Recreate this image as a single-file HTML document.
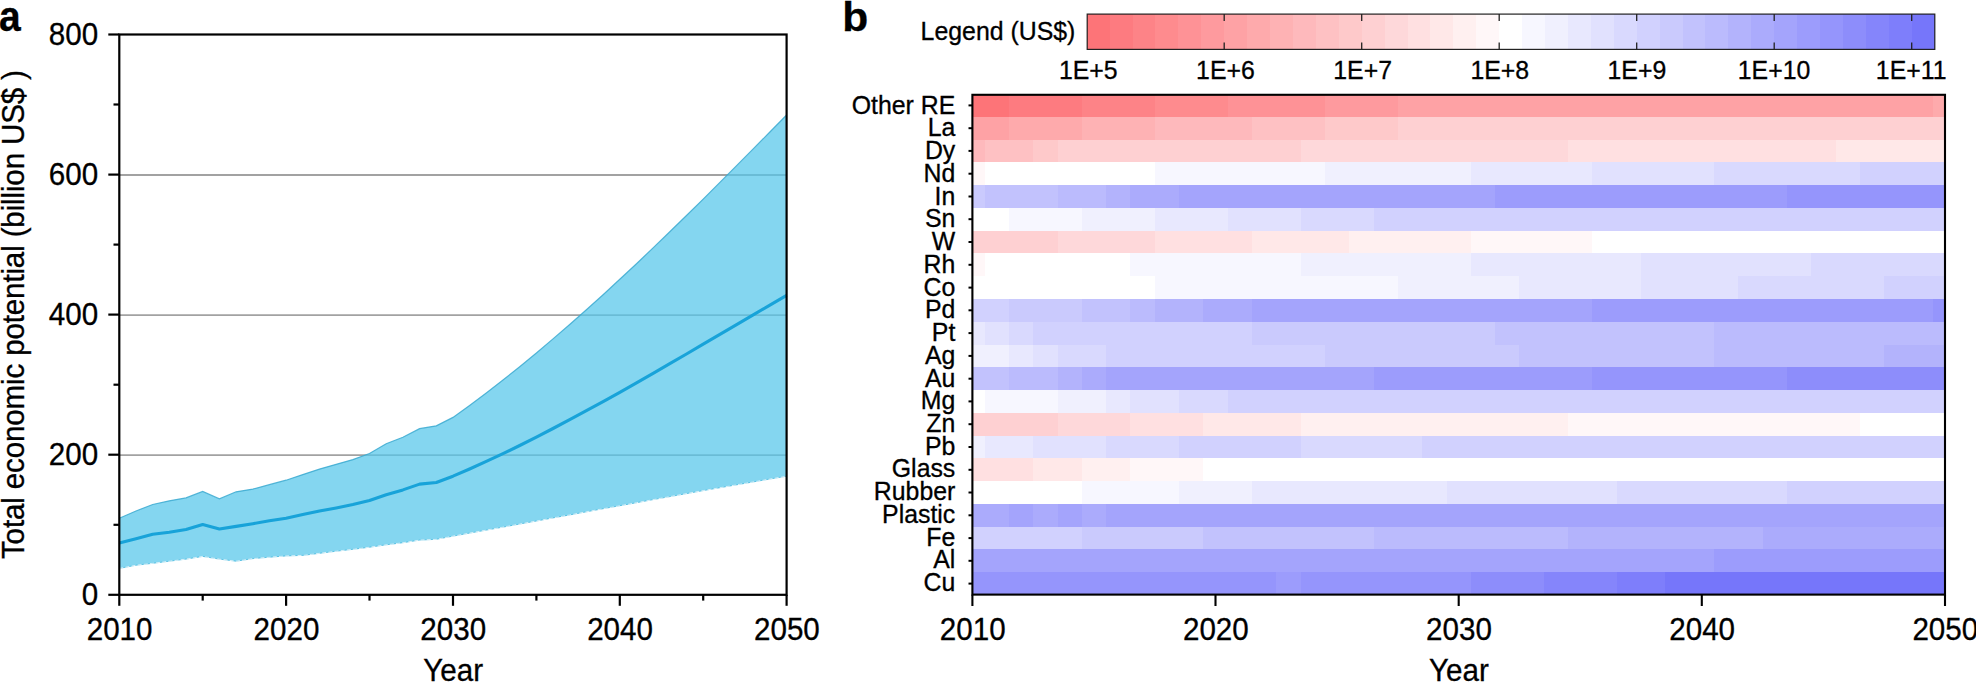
<!DOCTYPE html>
<html lang="en"><head><meta charset="utf-8"><title>Figure</title>
<style>html,body{margin:0;padding:0;background:#fff;}body{width:1976px;height:682px;overflow:hidden;font-family:"Liberation Sans", sans-serif;}svg text{fill:#000;stroke:#000;stroke-width:0.3px;}</style>
</head><body>
<svg width="1976" height="682" viewBox="0 0 1976 682" style="display:block;font-family:'Liberation Sans', sans-serif">
<rect width="1976" height="682" fill="#fff"/>
<line x1="119.3" x2="786.6" y1="455.17" y2="455.17" stroke="#a2a2a2" stroke-width="1.9"/>
<line x1="119.3" x2="786.6" y1="315.10" y2="315.10" stroke="#a2a2a2" stroke-width="1.9"/>
<line x1="119.3" x2="786.6" y1="175.02" y2="175.02" stroke="#a2a2a2" stroke-width="1.9"/>
<polygon points="119.3,518.2 136.0,511.0 152.7,504.5 169.3,500.8 186.0,497.9 202.7,491.5 219.4,498.9 236.1,491.8 252.8,489.1 269.4,484.7 286.1,480.2 302.8,474.6 319.5,469.1 336.2,464.3 352.9,459.6 369.5,453.5 386.2,443.8 402.9,437.2 419.6,428.7 436.3,425.8 453.0,417.4 469.6,405.4 486.3,392.9 503.0,380.0 519.7,366.7 536.4,353.0 553.0,338.9 569.7,324.5 586.4,309.8 603.1,294.7 619.8,279.3 636.5,263.7 653.1,247.9 669.8,231.8 686.5,215.5 703.2,199.1 719.9,182.4 736.6,165.7 753.2,148.9 769.9,132.0 786.6,115.0 786.6,476.2 769.9,479.0 753.2,481.9 736.6,484.8 719.9,487.7 703.2,490.6 686.5,493.6 669.8,496.6 653.1,499.6 636.5,502.7 619.8,505.7 603.1,508.7 586.4,511.8 569.7,514.9 553.0,517.9 536.4,521.0 519.7,524.0 503.0,527.1 486.3,530.1 469.6,533.1 453.0,536.1 436.3,539.3 419.6,540.1 402.9,542.7 386.2,544.8 369.5,547.2 352.9,549.3 336.2,551.2 319.5,553.3 302.8,555.4 286.1,555.9 269.4,557.2 252.8,558.6 236.1,561.2 219.4,559.1 202.7,556.4 186.0,559.1 169.3,561.2 152.7,563.3 136.0,565.2 119.3,568.4" fill="#55c6ea" fill-opacity="0.72"/>
<polyline points="119.3,518.2 136.0,511.0 152.7,504.5 169.3,500.8 186.0,497.9 202.7,491.5 219.4,498.9 236.1,491.8 252.8,489.1 269.4,484.7 286.1,480.2 302.8,474.6 319.5,469.1 336.2,464.3 352.9,459.6 369.5,453.5 386.2,443.8 402.9,437.2 419.6,428.7 436.3,425.8 453.0,417.4 469.6,405.4 486.3,392.9 503.0,380.0 519.7,366.7 536.4,353.0 553.0,338.9 569.7,324.5 586.4,309.8 603.1,294.7 619.8,279.3 636.5,263.7 653.1,247.9 669.8,231.8 686.5,215.5 703.2,199.1 719.9,182.4 736.6,165.7 753.2,148.9 769.9,132.0 786.6,115.0" fill="none" stroke="#3aa9d0" stroke-width="1.2" stroke-opacity="0.85"/>
<polyline points="119.3,568.4 136.0,565.2 152.7,563.3 169.3,561.2 186.0,559.1 202.7,556.4 219.4,559.1 236.1,561.2 252.8,558.6 269.4,557.2 286.1,555.9 302.8,555.4 319.5,553.3 336.2,551.2 352.9,549.3 369.5,547.2 386.2,544.8 402.9,542.7 419.6,540.1 436.3,539.3 453.0,536.1 469.6,533.1 486.3,530.1 503.0,527.1 519.7,524.0 536.4,521.0 553.0,517.9 569.7,514.9 586.4,511.8 603.1,508.7 619.8,505.7 636.5,502.7 653.1,499.6 669.8,496.6 686.5,493.6 703.2,490.6 719.9,487.7 736.6,484.8 753.2,481.9 769.9,479.0 786.6,476.2" fill="none" stroke="#45b9e0" stroke-width="1" stroke-opacity="0.8"/>
<polyline points="119.3,568.4 136.0,565.2 152.7,563.3 169.3,561.2 186.0,559.1 202.7,556.4 219.4,559.1 236.1,561.2 252.8,558.6 269.4,557.2 286.1,555.9 302.8,555.4 319.5,553.3 336.2,551.2 352.9,549.3 369.5,547.2 386.2,544.8 402.9,542.7 419.6,540.1 436.3,539.3 453.0,536.1 469.6,533.1 486.3,530.1 503.0,527.1 519.7,524.0 536.4,521.0 553.0,517.9 569.7,514.9 586.4,511.8 603.1,508.7 619.8,505.7 636.5,502.7 653.1,499.6 669.8,496.6 686.5,493.6 703.2,490.6 719.9,487.7 736.6,484.8 753.2,481.9 769.9,479.0 786.6,476.2" fill="none" stroke="#ffffff" stroke-width="0.9" stroke-dasharray="4 2.2" stroke-opacity="0.85"/>
<polyline points="119.3,543.0 136.0,538.8 152.7,534.3 169.3,532.2 186.0,529.5 202.7,524.5 219.4,529.0 236.1,526.4 252.8,523.7 269.4,520.8 286.1,518.2 302.8,514.5 319.5,511.1 336.2,507.9 352.9,504.5 369.5,500.5 386.2,494.7 402.9,489.9 419.6,484.1 436.3,482.5 453.0,476.2 469.6,469.0 486.3,461.4 503.0,453.6 519.7,445.5 536.4,437.1 553.0,428.5 569.7,419.7 586.4,410.7 603.1,401.6 619.8,392.3 636.5,382.8 653.1,373.3 669.8,363.7 686.5,354.0 703.2,344.2 719.9,334.4 736.6,324.6 753.2,314.9 769.9,305.1 786.6,295.4" fill="none" stroke="#18a3d9" stroke-width="3.1" stroke-linejoin="round"/>
<rect x="119.3" y="34.5" width="667.3000000000001" height="560.3" fill="none" stroke="#000" stroke-width="2.2"/>
<line x1="119.3" x2="119.3" y1="594.8" y2="605.8" stroke="#000" stroke-width="2.2"/>
<line x1="202.7" x2="202.7" y1="594.8" y2="600.5999999999999" stroke="#000" stroke-width="2.2"/>
<line x1="286.1" x2="286.1" y1="594.8" y2="605.8" stroke="#000" stroke-width="2.2"/>
<line x1="369.5" x2="369.5" y1="594.8" y2="600.5999999999999" stroke="#000" stroke-width="2.2"/>
<line x1="453.0" x2="453.0" y1="594.8" y2="605.8" stroke="#000" stroke-width="2.2"/>
<line x1="536.4" x2="536.4" y1="594.8" y2="600.5999999999999" stroke="#000" stroke-width="2.2"/>
<line x1="619.8" x2="619.8" y1="594.8" y2="605.8" stroke="#000" stroke-width="2.2"/>
<line x1="703.2" x2="703.2" y1="594.8" y2="600.5999999999999" stroke="#000" stroke-width="2.2"/>
<line x1="786.6" x2="786.6" y1="594.8" y2="605.8" stroke="#000" stroke-width="2.2"/>
<line x1="108.3" x2="119.3" y1="594.8" y2="594.8" stroke="#000" stroke-width="2.2"/>
<line x1="113.5" x2="119.3" y1="524.8" y2="524.8" stroke="#000" stroke-width="2.2"/>
<line x1="108.3" x2="119.3" y1="454.7" y2="454.7" stroke="#000" stroke-width="2.2"/>
<line x1="113.5" x2="119.3" y1="384.7" y2="384.7" stroke="#000" stroke-width="2.2"/>
<line x1="108.3" x2="119.3" y1="314.6" y2="314.6" stroke="#000" stroke-width="2.2"/>
<line x1="113.5" x2="119.3" y1="244.6" y2="244.6" stroke="#000" stroke-width="2.2"/>
<line x1="108.3" x2="119.3" y1="174.6" y2="174.6" stroke="#000" stroke-width="2.2"/>
<line x1="113.5" x2="119.3" y1="104.5" y2="104.5" stroke="#000" stroke-width="2.2"/>
<line x1="108.3" x2="119.3" y1="34.5" y2="34.5" stroke="#000" stroke-width="2.2"/>
<text transform="translate(119.60,639.60) scale(1,1.03)" font-size="29.6" text-anchor="middle">2010</text>
<text transform="translate(286.43,639.60) scale(1,1.03)" font-size="29.6" text-anchor="middle">2020</text>
<text transform="translate(453.25,639.60) scale(1,1.03)" font-size="29.6" text-anchor="middle">2030</text>
<text transform="translate(620.08,639.60) scale(1,1.03)" font-size="29.6" text-anchor="middle">2040</text>
<text transform="translate(786.90,639.60) scale(1,1.03)" font-size="29.6" text-anchor="middle">2050</text>
<text transform="translate(98.20,605.30) scale(1,1.03)" font-size="29.6" text-anchor="end">0</text>
<text transform="translate(98.20,465.22) scale(1,1.03)" font-size="29.6" text-anchor="end">200</text>
<text transform="translate(98.20,325.15) scale(1,1.03)" font-size="29.6" text-anchor="end">400</text>
<text transform="translate(98.20,185.07) scale(1,1.03)" font-size="29.6" text-anchor="end">600</text>
<text transform="translate(98.20,45.00) scale(1,1.03)" font-size="29.6" text-anchor="end">800</text>
<text transform="translate(453.20,681.20) scale(1,1.03)" font-size="29.6" text-anchor="middle">Year</text>
<text transform="translate(23.80,559.00) rotate(-90) scale(1,1.03)" font-size="29.6" textLength="489" lengthAdjust="spacing">Total economic potential (billion US$ )</text>
<text transform="translate(-1.00,31.30) scale(1,1.1)" font-size="39" font-weight="bold">a</text>
<g shape-rendering="crispEdges">
<rect x="972.40" y="94.00" width="36.97" height="23.27" fill="#fd7478"/>
<rect x="1008.87" y="94.00" width="73.44" height="23.27" fill="#fd7b80"/>
<rect x="1081.82" y="94.00" width="73.45" height="23.27" fill="#fd8387"/>
<rect x="1154.76" y="94.00" width="73.44" height="23.27" fill="#fe8b8e"/>
<rect x="1227.71" y="94.00" width="97.76" height="23.27" fill="#fe9296"/>
<rect x="1324.97" y="94.00" width="73.44" height="23.27" fill="#fe9a9e"/>
<rect x="1397.91" y="94.00" width="535.43" height="23.27" fill="#fea2a5"/>
<rect x="1932.84" y="94.00" width="12.66" height="23.27" fill="#feaaac"/>
<rect x="972.40" y="116.77" width="36.97" height="23.27" fill="#fea2a5"/>
<rect x="1008.87" y="116.77" width="73.44" height="23.27" fill="#feaaac"/>
<rect x="1081.82" y="116.77" width="73.45" height="23.27" fill="#feb2b4"/>
<rect x="1154.76" y="116.77" width="97.76" height="23.27" fill="#feb9bc"/>
<rect x="1252.02" y="116.77" width="73.44" height="23.27" fill="#fec1c3"/>
<rect x="1324.97" y="116.77" width="73.44" height="23.27" fill="#fec9ca"/>
<rect x="1397.91" y="116.77" width="547.59" height="23.27" fill="#fed0d2"/>
<rect x="972.40" y="139.55" width="12.66" height="23.27" fill="#feb9bc"/>
<rect x="984.56" y="139.55" width="49.13" height="23.27" fill="#fec1c3"/>
<rect x="1033.19" y="139.55" width="24.82" height="23.27" fill="#fec9ca"/>
<rect x="1057.50" y="139.55" width="243.65" height="23.27" fill="#fed0d2"/>
<rect x="1300.65" y="139.55" width="267.97" height="23.27" fill="#fed8da"/>
<rect x="1568.12" y="139.55" width="267.96" height="23.27" fill="#ffe0e1"/>
<rect x="1835.58" y="139.55" width="109.92" height="23.27" fill="#ffe8e8"/>
<rect x="972.40" y="162.32" width="12.66" height="23.27" fill="#fff7f8"/>
<rect x="984.56" y="162.32" width="170.71" height="23.27" fill="#ffffff"/>
<rect x="1154.76" y="162.32" width="170.70" height="23.27" fill="#f7f7ff"/>
<rect x="1324.97" y="162.32" width="146.39" height="23.27" fill="#f0f0fe"/>
<rect x="1470.86" y="162.32" width="122.07" height="23.27" fill="#e8e8fe"/>
<rect x="1592.43" y="162.32" width="122.08" height="23.27" fill="#e1e1fe"/>
<rect x="1714.01" y="162.32" width="146.39" height="23.27" fill="#d9d9fe"/>
<rect x="1859.90" y="162.32" width="85.60" height="23.27" fill="#d1d1fe"/>
<rect x="972.40" y="185.09" width="12.66" height="23.27" fill="#cacafd"/>
<rect x="984.56" y="185.09" width="73.45" height="23.27" fill="#c2c2fd"/>
<rect x="1057.50" y="185.09" width="49.13" height="23.27" fill="#bbbbfd"/>
<rect x="1106.13" y="185.09" width="24.82" height="23.27" fill="#b3b3fc"/>
<rect x="1130.45" y="185.09" width="49.13" height="23.27" fill="#ababfc"/>
<rect x="1179.08" y="185.09" width="316.60" height="23.27" fill="#a4a4fc"/>
<rect x="1495.17" y="185.09" width="292.28" height="23.27" fill="#9c9cfc"/>
<rect x="1786.95" y="185.09" width="158.55" height="23.27" fill="#9595fc"/>
<rect x="972.40" y="207.86" width="36.97" height="23.27" fill="#ffffff"/>
<rect x="1008.87" y="207.86" width="73.44" height="23.27" fill="#f7f7ff"/>
<rect x="1081.82" y="207.86" width="73.45" height="23.27" fill="#f0f0fe"/>
<rect x="1154.76" y="207.86" width="73.44" height="23.27" fill="#e8e8fe"/>
<rect x="1227.71" y="207.86" width="73.44" height="23.27" fill="#e1e1fe"/>
<rect x="1300.65" y="207.86" width="73.45" height="23.27" fill="#d9d9fe"/>
<rect x="1373.60" y="207.86" width="571.90" height="23.27" fill="#d1d1fe"/>
<rect x="972.40" y="230.64" width="85.60" height="23.27" fill="#fed0d2"/>
<rect x="1057.50" y="230.64" width="97.76" height="23.27" fill="#fed8da"/>
<rect x="1154.76" y="230.64" width="97.76" height="23.27" fill="#ffe0e1"/>
<rect x="1252.02" y="230.64" width="97.76" height="23.27" fill="#ffe8e8"/>
<rect x="1349.28" y="230.64" width="122.08" height="23.27" fill="#fff0f0"/>
<rect x="1470.86" y="230.64" width="122.07" height="23.27" fill="#fff7f8"/>
<rect x="1592.43" y="230.64" width="353.07" height="23.27" fill="#ffffff"/>
<rect x="972.40" y="253.41" width="12.66" height="23.27" fill="#fff7f8"/>
<rect x="984.56" y="253.41" width="146.39" height="23.27" fill="#ffffff"/>
<rect x="1130.45" y="253.41" width="170.70" height="23.27" fill="#f7f7ff"/>
<rect x="1300.65" y="253.41" width="170.71" height="23.27" fill="#f0f0fe"/>
<rect x="1470.86" y="253.41" width="170.70" height="23.27" fill="#e8e8fe"/>
<rect x="1641.06" y="253.41" width="170.70" height="23.27" fill="#e1e1fe"/>
<rect x="1811.27" y="253.41" width="134.23" height="23.27" fill="#d9d9fe"/>
<rect x="972.40" y="276.18" width="182.86" height="23.27" fill="#ffffff"/>
<rect x="1154.76" y="276.18" width="243.65" height="23.27" fill="#f7f7ff"/>
<rect x="1397.91" y="276.18" width="122.08" height="23.27" fill="#f0f0fe"/>
<rect x="1519.49" y="276.18" width="122.08" height="23.27" fill="#e8e8fe"/>
<rect x="1641.06" y="276.18" width="97.76" height="23.27" fill="#e1e1fe"/>
<rect x="1738.32" y="276.18" width="146.39" height="23.27" fill="#d9d9fe"/>
<rect x="1884.21" y="276.18" width="61.29" height="23.27" fill="#d1d1fe"/>
<rect x="972.40" y="298.95" width="36.97" height="23.27" fill="#d1d1fe"/>
<rect x="1008.87" y="298.95" width="73.44" height="23.27" fill="#cacafd"/>
<rect x="1081.82" y="298.95" width="49.13" height="23.27" fill="#c2c2fd"/>
<rect x="1130.45" y="298.95" width="24.82" height="23.27" fill="#bbbbfd"/>
<rect x="1154.76" y="298.95" width="49.13" height="23.27" fill="#b3b3fc"/>
<rect x="1203.39" y="298.95" width="49.13" height="23.27" fill="#ababfc"/>
<rect x="1252.02" y="298.95" width="340.91" height="23.27" fill="#a4a4fc"/>
<rect x="1592.43" y="298.95" width="340.91" height="23.27" fill="#9c9cfc"/>
<rect x="1932.84" y="298.95" width="12.66" height="23.27" fill="#9595fc"/>
<rect x="972.40" y="321.73" width="12.66" height="23.27" fill="#e8e8fe"/>
<rect x="984.56" y="321.73" width="24.81" height="23.27" fill="#e1e1fe"/>
<rect x="1008.87" y="321.73" width="24.82" height="23.27" fill="#d9d9fe"/>
<rect x="1033.19" y="321.73" width="219.34" height="23.27" fill="#d1d1fe"/>
<rect x="1252.02" y="321.73" width="243.65" height="23.27" fill="#cacafd"/>
<rect x="1495.17" y="321.73" width="219.34" height="23.27" fill="#c2c2fd"/>
<rect x="1714.01" y="321.73" width="231.49" height="23.27" fill="#bbbbfd"/>
<rect x="972.40" y="344.50" width="36.97" height="23.27" fill="#f0f0fe"/>
<rect x="1008.87" y="344.50" width="24.82" height="23.27" fill="#e8e8fe"/>
<rect x="1033.19" y="344.50" width="24.82" height="23.27" fill="#e1e1fe"/>
<rect x="1057.50" y="344.50" width="49.13" height="23.27" fill="#d9d9fe"/>
<rect x="1106.13" y="344.50" width="219.34" height="23.27" fill="#d1d1fe"/>
<rect x="1324.97" y="344.50" width="195.02" height="23.27" fill="#cacafd"/>
<rect x="1519.49" y="344.50" width="195.02" height="23.27" fill="#c2c2fd"/>
<rect x="1714.01" y="344.50" width="170.70" height="23.27" fill="#bbbbfd"/>
<rect x="1884.21" y="344.50" width="61.29" height="23.27" fill="#b3b3fc"/>
<rect x="972.40" y="367.27" width="36.97" height="23.27" fill="#c2c2fd"/>
<rect x="1008.87" y="367.27" width="49.13" height="23.27" fill="#bbbbfd"/>
<rect x="1057.50" y="367.27" width="24.81" height="23.27" fill="#b3b3fc"/>
<rect x="1081.82" y="367.27" width="24.82" height="23.27" fill="#ababfc"/>
<rect x="1106.13" y="367.27" width="267.97" height="23.27" fill="#a4a4fc"/>
<rect x="1373.60" y="367.27" width="219.33" height="23.27" fill="#9c9cfc"/>
<rect x="1592.43" y="367.27" width="195.02" height="23.27" fill="#9595fc"/>
<rect x="1786.95" y="367.27" width="158.55" height="23.27" fill="#8d8dfb"/>
<rect x="972.40" y="390.05" width="12.66" height="23.27" fill="#ffffff"/>
<rect x="984.56" y="390.05" width="73.45" height="23.27" fill="#f7f7ff"/>
<rect x="1057.50" y="390.05" width="49.13" height="23.27" fill="#f0f0fe"/>
<rect x="1106.13" y="390.05" width="24.82" height="23.27" fill="#e8e8fe"/>
<rect x="1130.45" y="390.05" width="49.13" height="23.27" fill="#e1e1fe"/>
<rect x="1179.08" y="390.05" width="49.13" height="23.27" fill="#d9d9fe"/>
<rect x="1227.71" y="390.05" width="717.79" height="23.27" fill="#d1d1fe"/>
<rect x="972.40" y="412.82" width="85.60" height="23.27" fill="#fed0d2"/>
<rect x="1057.50" y="412.82" width="73.44" height="23.27" fill="#fed8da"/>
<rect x="1130.45" y="412.82" width="73.44" height="23.27" fill="#ffe0e1"/>
<rect x="1203.39" y="412.82" width="97.76" height="23.27" fill="#ffe8e8"/>
<rect x="1300.65" y="412.82" width="267.97" height="23.27" fill="#fff0f0"/>
<rect x="1568.12" y="412.82" width="292.28" height="23.27" fill="#fff7f8"/>
<rect x="1859.90" y="412.82" width="85.60" height="23.27" fill="#ffffff"/>
<rect x="972.40" y="435.59" width="12.66" height="23.27" fill="#f0f0fe"/>
<rect x="984.56" y="435.59" width="49.13" height="23.27" fill="#e8e8fe"/>
<rect x="1033.19" y="435.59" width="73.44" height="23.27" fill="#e1e1fe"/>
<rect x="1106.13" y="435.59" width="73.44" height="23.27" fill="#d9d9fe"/>
<rect x="1179.08" y="435.59" width="122.08" height="23.27" fill="#d1d1fe"/>
<rect x="1300.65" y="435.59" width="122.08" height="23.27" fill="#d9d9fe"/>
<rect x="1422.23" y="435.59" width="523.27" height="23.27" fill="#d1d1fe"/>
<rect x="972.40" y="458.36" width="61.29" height="23.27" fill="#ffe0e1"/>
<rect x="1033.19" y="458.36" width="49.13" height="23.27" fill="#ffe8e8"/>
<rect x="1081.82" y="458.36" width="49.13" height="23.27" fill="#fff0f0"/>
<rect x="1130.45" y="458.36" width="73.44" height="23.27" fill="#fff7f8"/>
<rect x="1203.39" y="458.36" width="742.11" height="23.27" fill="#ffffff"/>
<rect x="972.40" y="481.14" width="109.92" height="23.27" fill="#ffffff"/>
<rect x="1081.82" y="481.14" width="97.76" height="23.27" fill="#f7f7ff"/>
<rect x="1179.08" y="481.14" width="73.45" height="23.27" fill="#f0f0fe"/>
<rect x="1252.02" y="481.14" width="195.02" height="23.27" fill="#e8e8fe"/>
<rect x="1446.54" y="481.14" width="170.70" height="23.27" fill="#e1e1fe"/>
<rect x="1616.75" y="481.14" width="170.70" height="23.27" fill="#d9d9fe"/>
<rect x="1786.95" y="481.14" width="158.55" height="23.27" fill="#d1d1fe"/>
<rect x="972.40" y="503.91" width="36.97" height="23.27" fill="#ababfc"/>
<rect x="1008.87" y="503.91" width="24.82" height="23.27" fill="#a4a4fc"/>
<rect x="1033.19" y="503.91" width="24.82" height="23.27" fill="#ababfc"/>
<rect x="1057.50" y="503.91" width="24.81" height="23.27" fill="#a4a4fc"/>
<rect x="1081.82" y="503.91" width="24.82" height="23.27" fill="#ababfc"/>
<rect x="1106.13" y="503.91" width="839.37" height="23.27" fill="#a4a4fc"/>
<rect x="972.40" y="526.68" width="109.92" height="23.27" fill="#d1d1fe"/>
<rect x="1081.82" y="526.68" width="122.08" height="23.27" fill="#cacafd"/>
<rect x="1203.39" y="526.68" width="170.71" height="23.27" fill="#c2c2fd"/>
<rect x="1373.60" y="526.68" width="195.02" height="23.27" fill="#bbbbfd"/>
<rect x="1568.12" y="526.68" width="195.02" height="23.27" fill="#b3b3fc"/>
<rect x="1762.64" y="526.68" width="182.86" height="23.27" fill="#ababfc"/>
<rect x="972.40" y="549.45" width="742.11" height="23.27" fill="#a4a4fc"/>
<rect x="1714.01" y="549.45" width="231.49" height="23.27" fill="#9c9cfc"/>
<rect x="972.40" y="572.23" width="304.44" height="22.77" fill="#9595fc"/>
<rect x="1276.34" y="572.23" width="24.81" height="22.77" fill="#9c9cfc"/>
<rect x="1300.65" y="572.23" width="170.71" height="22.77" fill="#9595fc"/>
<rect x="1470.86" y="572.23" width="73.44" height="22.77" fill="#8d8dfb"/>
<rect x="1543.80" y="572.23" width="73.44" height="22.77" fill="#8585fb"/>
<rect x="1616.75" y="572.23" width="49.13" height="22.77" fill="#7e7efb"/>
<rect x="1665.38" y="572.23" width="280.12" height="22.77" fill="#7676fa"/>
</g>
<rect x="972.4" y="94.8" width="972.6" height="499.80" fill="none" stroke="#000" stroke-width="2.1"/>
<line x1="968.5" x2="972.4" y1="105.4" y2="105.4" stroke="#000" stroke-width="2"/>
<text transform="translate(955.30,113.70) scale(1,1.0)" font-size="24.85" text-anchor="end">Other RE</text>
<line x1="968.5" x2="972.4" y1="128.2" y2="128.2" stroke="#000" stroke-width="2"/>
<text transform="translate(955.30,136.44) scale(1,1.0)" font-size="24.85" text-anchor="end">La</text>
<line x1="968.5" x2="972.4" y1="150.9" y2="150.9" stroke="#000" stroke-width="2"/>
<text transform="translate(955.30,159.17) scale(1,1.0)" font-size="24.85" text-anchor="end">Dy</text>
<line x1="968.5" x2="972.4" y1="173.7" y2="173.7" stroke="#000" stroke-width="2"/>
<text transform="translate(955.30,181.91) scale(1,1.0)" font-size="24.85" text-anchor="end">Nd</text>
<line x1="968.5" x2="972.4" y1="196.5" y2="196.5" stroke="#000" stroke-width="2"/>
<text transform="translate(955.30,204.64) scale(1,1.0)" font-size="24.85" text-anchor="end">In</text>
<line x1="968.5" x2="972.4" y1="219.2" y2="219.2" stroke="#000" stroke-width="2"/>
<text transform="translate(955.30,227.38) scale(1,1.0)" font-size="24.85" text-anchor="end">Sn</text>
<line x1="968.5" x2="972.4" y1="242.0" y2="242.0" stroke="#000" stroke-width="2"/>
<text transform="translate(955.30,250.11) scale(1,1.0)" font-size="24.85" text-anchor="end">W</text>
<line x1="968.5" x2="972.4" y1="264.8" y2="264.8" stroke="#000" stroke-width="2"/>
<text transform="translate(955.30,272.84) scale(1,1.0)" font-size="24.85" text-anchor="end">Rh</text>
<line x1="968.5" x2="972.4" y1="287.6" y2="287.6" stroke="#000" stroke-width="2"/>
<text transform="translate(955.30,295.58) scale(1,1.0)" font-size="24.85" text-anchor="end">Co</text>
<line x1="968.5" x2="972.4" y1="310.3" y2="310.3" stroke="#000" stroke-width="2"/>
<text transform="translate(955.30,318.31) scale(1,1.0)" font-size="24.85" text-anchor="end">Pd</text>
<line x1="968.5" x2="972.4" y1="333.1" y2="333.1" stroke="#000" stroke-width="2"/>
<text transform="translate(955.30,341.05) scale(1,1.0)" font-size="24.85" text-anchor="end">Pt</text>
<line x1="968.5" x2="972.4" y1="355.9" y2="355.9" stroke="#000" stroke-width="2"/>
<text transform="translate(955.30,363.78) scale(1,1.0)" font-size="24.85" text-anchor="end">Ag</text>
<line x1="968.5" x2="972.4" y1="378.7" y2="378.7" stroke="#000" stroke-width="2"/>
<text transform="translate(955.30,386.52) scale(1,1.0)" font-size="24.85" text-anchor="end">Au</text>
<line x1="968.5" x2="972.4" y1="401.4" y2="401.4" stroke="#000" stroke-width="2"/>
<text transform="translate(955.30,409.25) scale(1,1.0)" font-size="24.85" text-anchor="end">Mg</text>
<line x1="968.5" x2="972.4" y1="424.2" y2="424.2" stroke="#000" stroke-width="2"/>
<text transform="translate(955.30,431.99) scale(1,1.0)" font-size="24.85" text-anchor="end">Zn</text>
<line x1="968.5" x2="972.4" y1="447.0" y2="447.0" stroke="#000" stroke-width="2"/>
<text transform="translate(955.30,454.72) scale(1,1.0)" font-size="24.85" text-anchor="end">Pb</text>
<line x1="968.5" x2="972.4" y1="469.8" y2="469.8" stroke="#000" stroke-width="2"/>
<text transform="translate(955.30,477.46) scale(1,1.0)" font-size="24.85" text-anchor="end">Glass</text>
<line x1="968.5" x2="972.4" y1="492.5" y2="492.5" stroke="#000" stroke-width="2"/>
<text transform="translate(955.30,500.19) scale(1,1.0)" font-size="24.85" text-anchor="end">Rubber</text>
<line x1="968.5" x2="972.4" y1="515.3" y2="515.3" stroke="#000" stroke-width="2"/>
<text transform="translate(955.30,522.93) scale(1,1.0)" font-size="24.85" text-anchor="end">Plastic</text>
<line x1="968.5" x2="972.4" y1="538.1" y2="538.1" stroke="#000" stroke-width="2"/>
<text transform="translate(955.30,545.66) scale(1,1.0)" font-size="24.85" text-anchor="end">Fe</text>
<line x1="968.5" x2="972.4" y1="560.8" y2="560.8" stroke="#000" stroke-width="2"/>
<text transform="translate(955.30,568.40) scale(1,1.0)" font-size="24.85" text-anchor="end">Al</text>
<line x1="968.5" x2="972.4" y1="583.6" y2="583.6" stroke="#000" stroke-width="2"/>
<text transform="translate(955.30,591.13) scale(1,1.0)" font-size="24.85" text-anchor="end">Cu</text>
<line x1="972.4" x2="972.4" y1="594.6" y2="606" stroke="#000" stroke-width="2.1"/>
<text transform="translate(972.70,639.60) scale(1,1.03)" font-size="29.6" text-anchor="middle">2010</text>
<line x1="1215.5" x2="1215.5" y1="594.6" y2="606" stroke="#000" stroke-width="2.1"/>
<text transform="translate(1215.85,639.60) scale(1,1.03)" font-size="29.6" text-anchor="middle">2020</text>
<line x1="1458.7" x2="1458.7" y1="594.6" y2="606" stroke="#000" stroke-width="2.1"/>
<text transform="translate(1459.00,639.60) scale(1,1.03)" font-size="29.6" text-anchor="middle">2030</text>
<line x1="1701.8" x2="1701.8" y1="594.6" y2="606" stroke="#000" stroke-width="2.1"/>
<text transform="translate(1702.15,639.60) scale(1,1.03)" font-size="29.6" text-anchor="middle">2040</text>
<line x1="1945.0" x2="1945.0" y1="594.6" y2="606" stroke="#000" stroke-width="2.1"/>
<text transform="translate(1945.30,639.60) scale(1,1.03)" font-size="29.6" text-anchor="middle">2050</text>
<text transform="translate(1459.00,681.20) scale(1,1.03)" font-size="29.6" text-anchor="middle">Year</text>
<text transform="translate(842.30,31.20) scale(1.09,1.06)" font-size="39" font-weight="bold">b</text>
<g shape-rendering="crispEdges">
<rect x="1087.20" y="14.1" width="22.92" height="35.3" fill="#fd7478"/>
<rect x="1109.62" y="14.1" width="23.42" height="35.3" fill="#fd7b80"/>
<rect x="1132.53" y="14.1" width="23.42" height="35.3" fill="#fd8387"/>
<rect x="1155.45" y="14.1" width="23.42" height="35.3" fill="#fe8b8e"/>
<rect x="1178.37" y="14.1" width="23.42" height="35.3" fill="#fe9296"/>
<rect x="1201.28" y="14.1" width="23.42" height="35.3" fill="#fe9a9e"/>
<rect x="1224.20" y="14.1" width="23.42" height="35.3" fill="#fea2a5"/>
<rect x="1247.12" y="14.1" width="23.42" height="35.3" fill="#feaaac"/>
<rect x="1270.03" y="14.1" width="23.42" height="35.3" fill="#feb2b4"/>
<rect x="1292.95" y="14.1" width="23.42" height="35.3" fill="#feb9bc"/>
<rect x="1315.87" y="14.1" width="23.42" height="35.3" fill="#fec1c3"/>
<rect x="1338.78" y="14.1" width="23.42" height="35.3" fill="#fec9ca"/>
<rect x="1361.70" y="14.1" width="23.42" height="35.3" fill="#fed0d2"/>
<rect x="1384.62" y="14.1" width="23.42" height="35.3" fill="#fed8da"/>
<rect x="1407.53" y="14.1" width="23.42" height="35.3" fill="#ffe0e1"/>
<rect x="1430.45" y="14.1" width="23.42" height="35.3" fill="#ffe8e8"/>
<rect x="1453.37" y="14.1" width="23.42" height="35.3" fill="#fff0f0"/>
<rect x="1476.28" y="14.1" width="23.42" height="35.3" fill="#fff7f8"/>
<rect x="1499.20" y="14.1" width="23.42" height="35.3" fill="#ffffff"/>
<rect x="1522.12" y="14.1" width="23.42" height="35.3" fill="#f7f7ff"/>
<rect x="1545.03" y="14.1" width="23.42" height="35.3" fill="#f0f0fe"/>
<rect x="1567.95" y="14.1" width="23.42" height="35.3" fill="#e8e8fe"/>
<rect x="1590.87" y="14.1" width="23.42" height="35.3" fill="#e1e1fe"/>
<rect x="1613.78" y="14.1" width="23.42" height="35.3" fill="#d9d9fe"/>
<rect x="1636.70" y="14.1" width="23.42" height="35.3" fill="#d1d1fe"/>
<rect x="1659.62" y="14.1" width="23.42" height="35.3" fill="#cacafd"/>
<rect x="1682.53" y="14.1" width="23.42" height="35.3" fill="#c2c2fd"/>
<rect x="1705.45" y="14.1" width="23.42" height="35.3" fill="#bbbbfd"/>
<rect x="1728.37" y="14.1" width="23.42" height="35.3" fill="#b3b3fc"/>
<rect x="1751.28" y="14.1" width="23.42" height="35.3" fill="#ababfc"/>
<rect x="1774.20" y="14.1" width="23.42" height="35.3" fill="#a4a4fc"/>
<rect x="1797.12" y="14.1" width="23.42" height="35.3" fill="#9c9cfc"/>
<rect x="1820.03" y="14.1" width="23.42" height="35.3" fill="#9595fc"/>
<rect x="1842.95" y="14.1" width="23.42" height="35.3" fill="#8d8dfb"/>
<rect x="1865.87" y="14.1" width="23.42" height="35.3" fill="#8585fb"/>
<rect x="1888.78" y="14.1" width="23.42" height="35.3" fill="#7e7efb"/>
<rect x="1911.70" y="14.1" width="23.42" height="35.3" fill="#7676fa"/>
</g>
<rect x="1087.2" y="14.1" width="847.5999999999999" height="35.3" fill="none" stroke="#222" stroke-width="1.2"/>
<text transform="translate(1088.30,79.30) scale(1,1.0)" font-size="24.85" text-anchor="middle">1E+5</text>
<line x1="1224.2" x2="1224.2" y1="14.1" y2="21.1" stroke="#222" stroke-width="1.3"/>
<line x1="1224.2" x2="1224.2" y1="42.4" y2="49.4" stroke="#222" stroke-width="1.3"/>
<text transform="translate(1225.45,79.30) scale(1,1.0)" font-size="24.85" text-anchor="middle">1E+6</text>
<line x1="1361.7" x2="1361.7" y1="14.1" y2="21.1" stroke="#222" stroke-width="1.3"/>
<line x1="1361.7" x2="1361.7" y1="42.4" y2="49.4" stroke="#222" stroke-width="1.3"/>
<text transform="translate(1362.60,79.30) scale(1,1.0)" font-size="24.85" text-anchor="middle">1E+7</text>
<line x1="1499.2" x2="1499.2" y1="14.1" y2="21.1" stroke="#222" stroke-width="1.3"/>
<line x1="1499.2" x2="1499.2" y1="42.4" y2="49.4" stroke="#222" stroke-width="1.3"/>
<text transform="translate(1499.75,79.30) scale(1,1.0)" font-size="24.85" text-anchor="middle">1E+8</text>
<line x1="1636.7" x2="1636.7" y1="14.1" y2="21.1" stroke="#222" stroke-width="1.3"/>
<line x1="1636.7" x2="1636.7" y1="42.4" y2="49.4" stroke="#222" stroke-width="1.3"/>
<text transform="translate(1636.90,79.30) scale(1,1.0)" font-size="24.85" text-anchor="middle">1E+9</text>
<line x1="1774.2" x2="1774.2" y1="14.1" y2="21.1" stroke="#222" stroke-width="1.3"/>
<line x1="1774.2" x2="1774.2" y1="42.4" y2="49.4" stroke="#222" stroke-width="1.3"/>
<text transform="translate(1774.05,79.30) scale(1,1.0)" font-size="24.85" text-anchor="middle">1E+10</text>
<line x1="1911.7" x2="1911.7" y1="14.1" y2="21.1" stroke="#222" stroke-width="1.3"/>
<line x1="1911.7" x2="1911.7" y1="42.4" y2="49.4" stroke="#222" stroke-width="1.3"/>
<text transform="translate(1911.20,79.30) scale(1,1.0)" font-size="24.85" text-anchor="middle">1E+11</text>
<text transform="translate(1075.30,40.30) scale(1,1.0)" font-size="24.85" text-anchor="end">Legend (US$)</text>
</svg>
</body></html>
